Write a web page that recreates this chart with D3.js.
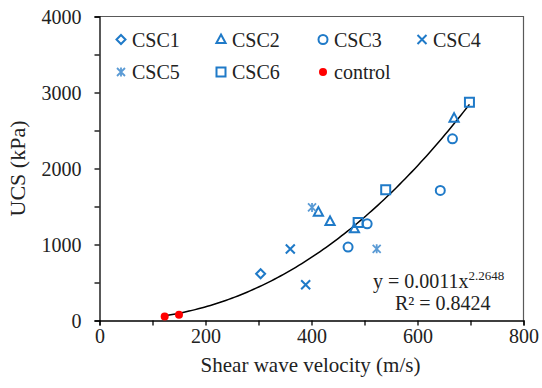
<!DOCTYPE html>
<html><head><meta charset="utf-8">
<script src="https://cdn.jsdelivr.net/npm/d3@7"></script>
<style>
html,body{margin:0;padding:0;background:#fff;}
svg{display:block;}
svg text{font-family:"Liberation Serif","DejaVu Serif",serif;}
</style></head>
<body><svg id="chart" width="542" height="388"></svg>
<script>
// ---- data ----
const seriesNames = ["CSC1","CSC2","CSC3","CSC4","CSC5","CSC6","control"];
const csc1 = [[304,615]];
const csc2 = [[413,1426],[435,1303],[481,1207],[669,2663]];
const csc3 = [[469,966],[505,1272],[643,1711],[666,2391]];
const csc4 = [[360,940],[389,470]];
const csc5 = [[401,1487],[523,943]];
const csc6 = [[488,1290],[540,1720],[698,2873]];
const control = [[123,53],[150,75]];
const xTicks = [0,200,400,600,800];
const yTicks = [0,1000,2000,3000,4000];
const eqText = {a:"0.0011", b:"2.2648", r2:"0.8424"};

const FONT = "Liberation Serif";
const svg = d3.select("#chart");
const L=99.5, R=523.5, T=16.5, B=320.5;
const x = d3.scaleLinear().domain([0,800]).range([L,R]);
const y = d3.scaleLinear().domain([0,4000]).range([B,T]);

const blue="#1f7ac8", lightBlue="#5b9bd5", red="#ff0000";

// frame top/right
svg.append("path").attr("d",`M${L},${T}H${R}V${B}`).attr("fill","none").attr("stroke","#595959").attr("stroke-width",1.2);

// axes
const xAxis = d3.axisBottom(x).tickValues(d3.range(0,801,100)).tickSize(5).tickFormat(d=>xTicks.includes(d)?d:"");
const gx = svg.append("g").attr("transform",`translate(0,${B})`).call(xAxis);
const yAxis = d3.axisLeft(y).tickValues(d3.range(0,4001,500)).tickSize(5).tickFormat(d=>yTicks.includes(d)?d:"");
const gy = svg.append("g").attr("transform",`translate(${L},0)`).call(yAxis);
[gx,gy].forEach(g=>{
  g.attr("font-family",FONT);
  g.select(".domain").attr("stroke","#000").attr("stroke-width",1.3);
  g.selectAll(".tick line").attr("stroke","#000").attr("stroke-width",1.3);
  g.selectAll("text").attr("font-family",FONT).attr("font-size",20).attr("fill","#222");
});
gx.selectAll("text").attr("dy",null).attr("y",22);
gy.selectAll("text").attr("x",-18).attr("dy","0.35em");

// axis titles
svg.append("text").attr("x",(L+R)/2-1).attr("y",372).attr("text-anchor","middle")
  .attr("font-family",FONT).attr("font-size",21).attr("fill","#222").text("Shear wave velocity (m/s)");
svg.append("text").attr("transform",`translate(25,${(T+B)/2}) rotate(-90)`).attr("text-anchor","middle")
  .attr("font-family",FONT).attr("font-size",22).attr("fill","#222").text("UCS (kPa)");

// trendline: power fit (log-log least squares) on all points
const all = [].concat(csc1,csc2,csc3,csc4,csc5,csc6,control);
const lx = all.map(d=>Math.log(d[0])), ly = all.map(d=>Math.log(d[1]));
const mx=d3.mean(lx), my=d3.mean(ly);
const bb = d3.sum(lx.map((v,i)=>(v-mx)*(ly[i]-my)))/d3.sum(lx.map(v=>(v-mx)**2));
const aa = Math.exp(my-bb*mx);
const xmin=d3.min(all,d=>d[0]), xmax=d3.max(all,d=>d[0]);
const curve = d3.range(0,101).map(i=>{const xv=xmin+(xmax-xmin)*i/100; return [xv, aa*Math.pow(xv,bb)];});
svg.append("path").datum(curve).attr("d",d3.line().x(d=>x(d[0])).y(d=>y(d[1])))
  .attr("fill","none").attr("stroke","#000").attr("stroke-width",1.5);

// marker shapes
function shape(type){
  switch(type){
    case "diamond": return "M0,-4.5L4.5,0L0,4.5L-4.5,0Z";
    case "triangle": return "M0,-5L4.6,3.6L-4.6,3.6Z";
    case "circle": return "M4.5,0A4.5,4.5 0 1,1 -4.5,0A4.5,4.5 0 1,1 4.5,0Z";
    case "cross": return "M-4.5,-4.5L4.5,4.5M-4.5,4.5L4.5,-4.5";
    case "star": return "M-4,-4L4,4M-4,4L4,-4M0,-4.5V4.5";
    case "square": return "M-4.5,-4.5H4.5V4.5H-4.5Z";
  }
}
const groups = [
  {name:"CSC1", data:csc1, type:"diamond", color:blue},
  {name:"CSC2", data:csc2, type:"triangle", color:blue},
  {name:"CSC3", data:csc3, type:"circle", color:blue},
  {name:"CSC4", data:csc4, type:"cross", color:blue},
  {name:"CSC5", data:csc5, type:"star", color:lightBlue},
  {name:"CSC6", data:csc6, type:"square", color:blue},
  {name:"control", data:control, type:"dot", color:red}
];
function drawMarker(g, grp, cx, cy){
  if(grp.type==="dot"){
    g.append("circle").attr("cx",cx).attr("cy",cy).attr("r",4).attr("fill",grp.color);
  } else {
    g.append("path").attr("transform",`translate(${cx},${cy})`).attr("d",shape(grp.type))
      .attr("fill","none").attr("stroke",grp.color).attr("stroke-width",grp.type==="star"?1.8:2);
  }
}
const mg = svg.append("g");
groups.forEach(grp=>grp.data.forEach(d=>drawMarker(mg,grp,x(d[0]),y(d[1]))));

// legend
const lg = svg.append("g");
const colX=[121,221,323,422], rowY=[39.5,72];
groups.forEach((grp,i)=>{
  const cx=colX[i%4], cy=rowY[Math.floor(i/4)];
  drawMarker(lg,grp,cx,cy);
  lg.append("text").attr("x",cx+11).attr("y",cy).attr("dy","0.35em")
    .attr("font-family",FONT).attr("font-size",20).attr("fill","#222").text(grp.name);
});

// equation
const eq = svg.append("text").attr("x",373).attr("y",288).attr("font-family",FONT).attr("font-size",20).attr("fill","#222");
eq.append("tspan").text("y = "+eqText.a+"x");
eq.append("tspan").attr("dy",-8).attr("font-size",13).text(eqText.b);
svg.append("text").attr("x",395).attr("y",310).attr("font-family",FONT).attr("font-size",20).attr("fill","#222").text("R² = "+eqText.r2);
</script>
</body></html>
